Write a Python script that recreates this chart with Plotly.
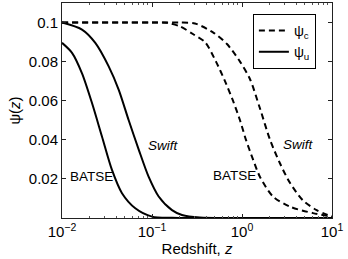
import plotly.graph_objects as go

# psi_u (solid) curves
z_u_batse = [0.01, 0.01292, 0.01668, 0.02154, 0.0278, 0.0359, 0.0464, 0.0652, 0.1, 0.1668, 0.3, 1.0, 10.0]
psi_u_batse = [0.0896, 0.0845, 0.074, 0.0588, 0.0417, 0.0246, 0.0127, 0.005, 0.0007, 0.0001, 0.0, 0.0, 0.0]

z_u_swift = [0.01, 0.01668, 0.02344, 0.0330, 0.0427, 0.0551, 0.0712, 0.0919, 0.1186, 0.1668, 0.2154, 0.34, 1.0, 10.0]
psi_u_swift = [0.100, 0.0964, 0.0896, 0.0776, 0.0656, 0.050, 0.035, 0.021, 0.011, 0.004, 0.0015, 0.0002, 0.0, 0.0]

# psi_c (dashed) curves
z_c_batse = [0.01, 0.05, 0.1, 0.1455, 0.2048, 0.2875, 0.388, 0.514, 0.647, 0.794, 0.95, 1.107,
             1.325, 1.585, 2.21, 3.41, 6.15, 10.0]
psi_c_batse = [0.1, 0.1, 0.1, 0.0999, 0.098, 0.094, 0.09, 0.08, 0.07, 0.06, 0.05, 0.04,
               0.03, 0.021, 0.011, 0.0058, 0.0025, 0.0007]

z_c_swift = [0.01, 0.05, 0.1, 0.2, 0.30, 0.476, 0.681, 0.95, 1.228, 1.585, 2.05, 2.64, 3.41,
             4.76, 6.76, 10.0]
psi_c_swift = [0.1, 0.1, 0.1, 0.1, 0.0995, 0.095, 0.089, 0.080, 0.071, 0.056, 0.040, 0.028,
               0.018, 0.009, 0.004, 0.0007]

y_ticks = [0.02, 0.04, 0.06, 0.08, 0.1]
y_tick_text = ["0.02", "0.04", "0.06", "0.08", "0.1"]
x_ticks = [0.01, 0.1, 1, 10]
x_tick_text = ["10<sup>−2</sup>", "10<sup>−1</sup>", "10<sup>0</sup>", "10<sup>1</sup>"]
x_minor = [m * 10 ** e for e in (-2, -1, 0) for m in range(2, 10)]

FONT = "Liberation Sans, Arial, sans-serif"
dash_style = "6px,4px"

fig = go.Figure()
fig.add_trace(go.Scatter(x=z_c_batse, y=psi_c_batse, mode="lines", name="ψ<sub>c</sub>",
                         line=dict(color="black", width=2, dash=dash_style, shape="spline", smoothing=0.8)))
fig.add_trace(go.Scatter(x=z_c_swift, y=psi_c_swift, mode="lines", showlegend=False,
                         line=dict(color="black", width=2, dash=dash_style, shape="spline", smoothing=0.8)))
fig.add_trace(go.Scatter(x=z_u_batse, y=psi_u_batse, mode="lines", name="ψ<sub>u</sub>",
                         line=dict(color="black", width=2, shape="spline", smoothing=0.8)))
fig.add_trace(go.Scatter(x=z_u_swift, y=psi_u_swift, mode="lines", showlegend=False,
                         line=dict(color="black", width=2, shape="spline", smoothing=0.8)))

labels = [
    (-1.667, 0.0212, "BATSE"),
    (-0.877, 0.0369, "<i>Swift</i>"),
    (-0.078, 0.0215, "BATSE"),
    (0.633, 0.0378, "<i>Swift</i>"),
]
for lx, ly, txt in labels:
    fig.add_annotation(x=lx, y=ly, xref="x", yref="y", text=txt, showarrow=False,
                       font=dict(family=FONT, size=13.5, color="black"))

fig.update_layout(
    width=348, height=259,
    margin=dict(l=62, r=16, t=3, b=41),
    paper_bgcolor="white", plot_bgcolor="white",
    font=dict(family=FONT, size=15, color="black"),
    showlegend=True,
    legend=dict(x=0.707, y=0.949, xanchor="left", yanchor="top",
                bordercolor="black", borderwidth=1, bgcolor="white",
                font=dict(family=FONT, size=14), itemwidth=30,
                tracegroupgap=0),
)
fig.update_xaxes(type="log", range=[-2, 1], tickmode="array", tickvals=x_ticks, ticktext=x_tick_text,
                 automargin=False,
                 showline=True, linecolor="#222", linewidth=1, mirror="ticks",
                 ticks="inside", ticklen=4, tickcolor="#222", showgrid=False, zeroline=False,
                 minor=dict(tickmode="array", tickvals=x_minor, ticks="inside", ticklen=2,
                            tickcolor="#555", showgrid=False),
                 title=dict(text="Redshift, <i>z</i>", standoff=2, font=dict(size=15)),
                 tickfont=dict(size=15))
fig.update_yaxes(range=[0, 0.11], tickmode="array", tickvals=y_ticks, ticktext=y_tick_text,
                 automargin=False,
                 showline=True, linecolor="#222", linewidth=1, mirror="ticks",
                 ticks="inside", ticklen=4, tickcolor="#222", showgrid=False, zeroline=False,
                 title=dict(text="ψ(<i>z</i>)", standoff=4, font=dict(size=15)),
                 tickfont=dict(size=15))

fig.write_html("out.html", config={"displayModeBar": False},
               post_script="document.body.style.margin='0';document.body.style.overflow='hidden';")
